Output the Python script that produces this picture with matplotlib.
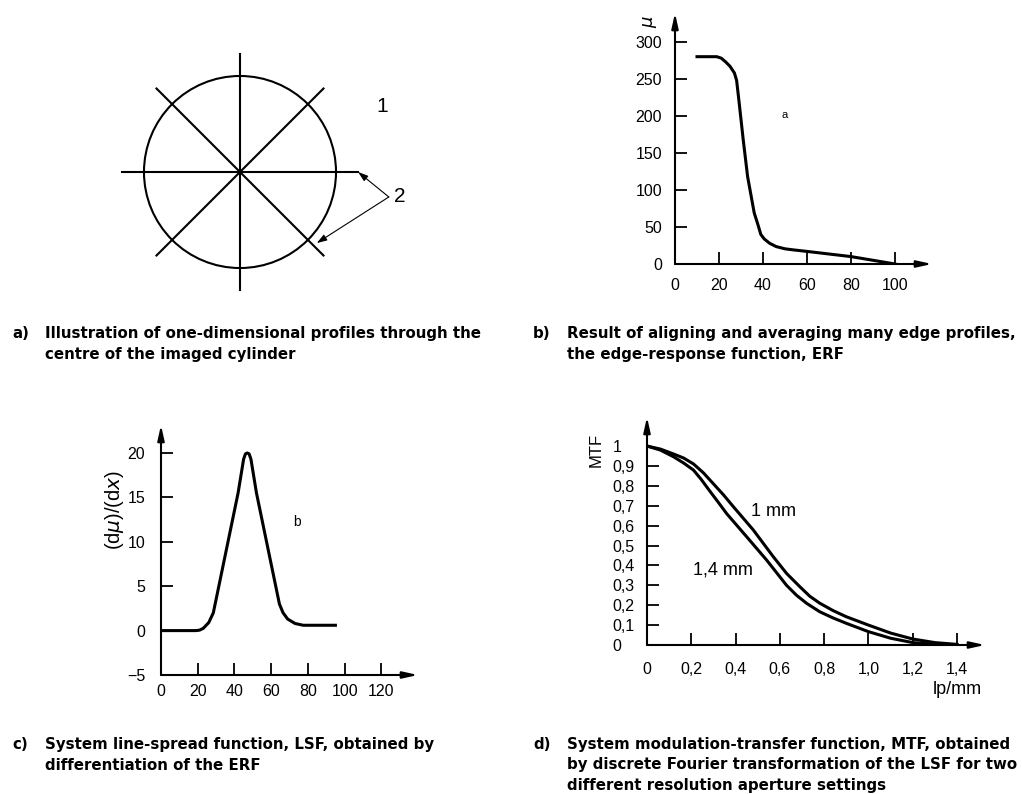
import numpy as np
import matplotlib.pyplot as plt

plt.rcParams["font.family"] = ["Liberation Sans", "DejaVu Sans"]

W, H = 1022, 794

# a) directions of the 1-D profiles through the centre (degrees)
profile_angles = [0, 45, 90, 135]

# b) edge-response function
erf_x = [10, 19, 21, 23, 25, 27, 28, 29, 31, 33, 36, 37.5, 39, 40.5, 43, 46, 50, 54, 60, 70, 80, 90, 100]
erf_y = [280, 280, 278, 273, 267, 258, 248, 222, 168, 118, 69, 55, 40, 34, 28, 23.5, 20.5, 19, 17, 13.5, 10, 5, 0]
b_xticks = [0, 20, 40, 60, 80, 100]
b_yticks = [0, 50, 100, 150, 200, 250, 300]

# c) line-spread function
lsf_x = [0, 19, 21, 23, 26, 28.5, 33, 37.5, 42, 45, 46, 47, 48, 49, 52, 56.5, 61, 64.5, 66.5, 69, 73, 77.5, 95]
lsf_y = [0, 0, 0.05, 0.25, 0.9, 2, 6.5, 11, 15.5, 19.3, 19.9, 20, 19.9, 19.3, 15.5, 11, 6.5, 3, 2, 1.3, 0.8, 0.6, 0.6]
c_xticks = [0, 20, 40, 60, 80, 100, 120]
c_yticks = [-5, 0, 5, 10, 15, 20]

# d) MTF for two aperture settings
mtf1_x = [0, 0.06, 0.12, 0.165, 0.21, 0.255, 0.30, 0.345, 0.39, 0.48, 0.57, 0.63, 0.69, 0.735,
          0.78, 0.84, 0.90, 1.0, 1.1, 1.2, 1.3, 1.4]
mtf1_y = [1.0, 0.985, 0.96, 0.94, 0.91, 0.865, 0.81, 0.755, 0.695, 0.578, 0.444, 0.36, 0.293, 0.245,
          0.21, 0.173, 0.142, 0.10, 0.06, 0.03, 0.012, 0.003]
mtf14_x = [0, 0.06, 0.12, 0.165, 0.21, 0.245, 0.28, 0.32, 0.36, 0.45, 0.54, 0.63, 0.675, 0.72,
           0.78, 0.84, 0.90, 1.0, 1.1, 1.2, 1.3]
mtf14_y = [1.0, 0.98, 0.946, 0.915, 0.879, 0.832, 0.779, 0.72, 0.66, 0.544, 0.427, 0.30, 0.25, 0.21,
           0.167, 0.136, 0.109, 0.067, 0.034, 0.012, 0.003]
d_xticks = [0, 0.2, 0.4, 0.6, 0.8, 1.0, 1.2, 1.4]
d_xlabels = ["0", "0,2", "0,4", "0,6", "0,8", "1,0", "1,2", "1,4"]
d_yticks = [0, 0.1, 0.2, 0.3, 0.4, 0.5, 0.6, 0.7, 0.8, 0.9, 1.0]
d_ylabels = ["0", "0,1", "0,2", "0,3", "0,4", "0,5", "0,6", "0,7", "0,8", "0,9", "1"]

captions = {
    "a)": ["Illustration of one-dimensional profiles through the",
           "centre of the imaged cylinder"],
    "b)": ["Result of aligning and averaging many edge profiles,",
           "the edge-response function, ERF"],
    "c)": ["System line-spread function, LSF, obtained by",
           "differentiation of the ERF"],
    "d)": ["System modulation-transfer function, MTF, obtained",
           "by discrete Fourier transformation of the LSF for two",
           "different resolution aperture settings"],
}

fig = plt.figure(figsize=(W / 100, H / 100), dpi=100)


def px_axes(left, top, right, bottom):
    return fig.add_axes([left / W, 1 - bottom / H, (right - left) / W, (bottom - top) / H])


def arrow_axes(ax, xpad, ypad):
    for s in ax.spines.values():
        s.set_visible(False)
    arrow = dict(arrowstyle="-|>,head_length=0.9,head_width=0.2", lw=1.5, color="k",
                 shrinkA=0, shrinkB=0, mutation_scale=10)
    ax.annotate("", xy=(1, 0), xytext=(0, 0), xycoords="axes fraction", arrowprops=arrow)
    ax.annotate("", xy=(0, 1), xytext=(0, 0), xycoords="axes fraction", arrowprops=arrow)
    ax.tick_params(direction="in", length=8.5, width=1.3, labelsize=11.5)
    ax.tick_params(axis="x", pad=xpad)
    ax.tick_params(axis="y", pad=ypad)


def fpx(x, y):
    return x / W, 1 - y / H


# a) schematic
ax = px_axes(100, 20, 440, 300)
ax.set_xlim(-1.458, 2.083)
ax.set_ylim(-1.333, 1.583)
ax.axis("off")
ax.add_patch(plt.Circle((0, 0), 1, fill=False, lw=1.5, color="k"))
for ang in profile_angles:
    t = np.deg2rad(ang)
    ax.plot([-1.23 * np.cos(t), 1.23 * np.cos(t)], [-1.23 * np.sin(t), 1.23 * np.sin(t)], color="k", lw=1.5)
ax.text(1.48, 0.68, "1", fontsize=15, ha="center", va="center")
ax.text(1.66, -0.26, "2", fontsize=15, ha="center", va="center")
for tip in [(1.23, 0.0), (0.80, -0.74)]:
    ax.annotate("", xy=tip, xytext=(1.55, -0.26),
                arrowprops=dict(arrowstyle="-|>,head_length=0.6,head_width=0.2", lw=0.8, color="k",
                                shrinkA=0, shrinkB=0, mutation_scale=10))

# b) ERF
ax = px_axes(675, 13, 932, 264)
ax.plot(erf_x, erf_y, color="k", lw=2.2, solid_joinstyle="round")
ax.set_xlim(0, 116.8)
ax.set_ylim(0, 339)
ax.set_xticks(b_xticks)
ax.set_yticks(b_yticks)
arrow_axes(ax, 10, 9.4)
ax.text(50, 201, "a", fontsize=8, ha="center", va="center")
fig.text(*fpx(650, 22), r"$\mu$", fontsize=13, rotation=90, ha="center", va="center")

# c) LSF
ax = px_axes(161, 425, 418, 675)
ax.plot(lsf_x, lsf_y, color="k", lw=2.2, solid_joinstyle="round")
ax.set_xlim(0, 140)
ax.set_ylim(-5, 23.15)
ax.set_xticks(c_xticks)
ax.set_yticks(c_yticks)
arrow_axes(ax, 6.5, 11.5)
ax.text(74, 12.2, "b", fontsize=10, ha="center", va="center")
fig.text(*fpx(114, 510), r"(d$\mu$)/(d$x$)", fontsize=14.5, rotation=90, ha="center", va="center")

# d) MTF
ax = px_axes(647, 417, 985, 645)
ax.plot(mtf1_x, mtf1_y, color="k", lw=2.2, solid_joinstyle="round")
ax.plot(mtf14_x, mtf14_y, color="k", lw=2.2, solid_joinstyle="round")
ax.set_xlim(0, 1.526)
ax.set_ylim(0, 1.146)
ax.set_xticks(d_xticks, d_xlabels)
ax.set_yticks(d_yticks, d_ylabels)
arrow_axes(ax, 12, 25)
for lbl in ax.get_yticklabels():
    lbl.set_ha("left")
ax.yaxis.get_major_ticks()[-1].tick1line.set_visible(False)
ax.text(0.569, 0.673, "1 mm", fontsize=13, ha="center", va="center")
ax.text(0.343, 0.377, "1,4 mm", fontsize=13, ha="center", va="center")
fig.text(*fpx(957, 690), "lp/mm", fontsize=13, ha="center", va="center")
fig.text(*fpx(596, 450), "MTF", fontsize=12, rotation=90, ha="center", va="center")

# captions
cap_pos = {"a)": (12, 45, 338), "b)": (533, 567, 338), "c)": (12, 45, 749), "d)": (533, 567, 749)}
for key, lines in captions.items():
    xk, xt, y0 = cap_pos[key]
    fig.text(*fpx(xk, y0), key, fontsize=10.8, fontweight="bold", family="DejaVu Sans", va="baseline")
    for i, line in enumerate(lines):
        fig.text(*fpx(xt, y0 + 20.5 * i), line, fontsize=10.8, fontweight="bold",
                 family="DejaVu Sans", va="baseline")

fig.savefig("out.png", dpi=100)
